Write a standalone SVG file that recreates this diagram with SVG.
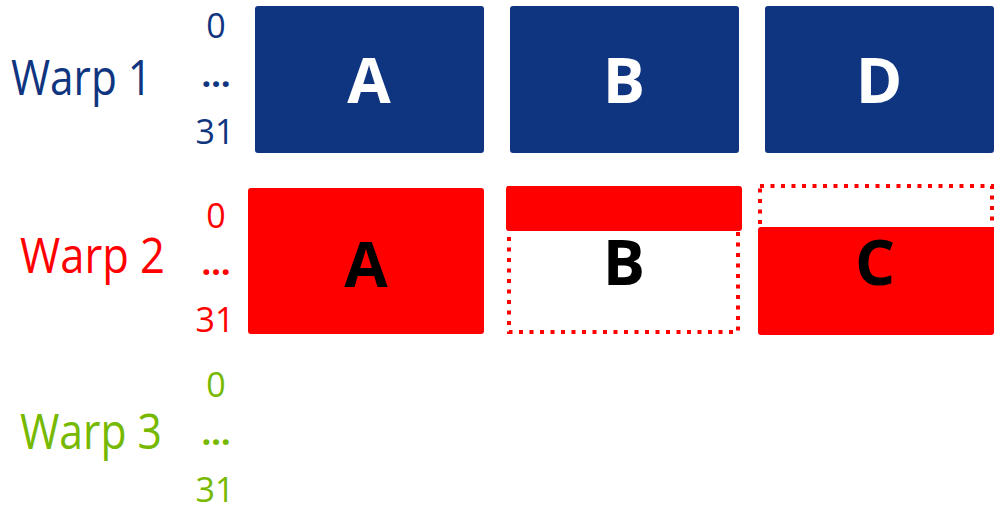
<svg xmlns="http://www.w3.org/2000/svg" width="1002" height="513" viewBox="0 0 1002 513">
<style>
.lbl{font-family:"Open Sans","DejaVu Sans",sans-serif;font-size:49px}
.num{font-family:"Open Sans","DejaVu Sans",sans-serif;font-size:34px;text-anchor:middle}
.ell{font-family:"Open Sans","DejaVu Sans",sans-serif;font-size:34px;font-weight:bold;text-anchor:middle}
.big{font-family:"Open Sans","DejaVu Sans",sans-serif;font-size:63px;font-weight:bold;text-anchor:middle}
.blue{fill:#0F3580}
.red{fill:#FF0000}
.green{fill:#76B900}
.dot{fill:none;stroke:#FF0000;stroke-width:4;stroke-dasharray:4 6.5}
</style>
<rect width="1002" height="513" fill="#ffffff"/>
<g id="warp1-label">
<text class="lbl blue" x="11" y="95" textLength="141" lengthAdjust="spacingAndGlyphs">Warp 1</text>
<text class="num blue" x="216" y="38">0</text>
<text class="ell blue" x="216" y="87">…</text>
<text class="num blue" x="215" y="144">31</text>
</g>
<g id="warp2-label">
<text class="lbl red" x="20" y="273" textLength="145" lengthAdjust="spacingAndGlyphs">Warp 2</text>
<text class="num red" x="216" y="228">0</text>
<text class="ell red" x="216" y="275">…</text>
<text class="num red" x="215" y="332">31</text>
</g>
<g id="warp3-label">
<text class="lbl green" x="20" y="449" textLength="142" lengthAdjust="spacingAndGlyphs">Warp 3</text>
<text class="num green" x="216" y="397">0</text>
<text class="ell green" x="216" y="445">…</text>
<text class="num green" x="215" y="502">31</text>
</g>
<g id="w1-A"><rect x="255" y="6" width="229" height="147" rx="3" class="blue"/><text class="big" x="369" y="103" fill="#ffffff">A</text></g>
<g id="w1-B"><rect x="510" y="6" width="229" height="147" rx="3" class="blue"/><text class="big" x="624" y="103" fill="#ffffff">B</text></g>
<g id="w1-D"><rect x="765" y="6" width="229" height="147" rx="3" class="blue"/><text class="big" x="879" y="103" fill="#ffffff">D</text></g>
<g id="w2-A"><rect x="248" y="188" width="236" height="146" rx="3" class="red"/><text class="big" x="366" y="287" fill="#000000">A</text></g>
<g id="w2-B"><rect x="509" y="188" width="229" height="144" class="dot"/><rect x="506" y="186" width="236" height="45" rx="3" class="red"/><text class="big" x="624" y="285" fill="#000000">B</text></g>
<g id="w2-C"><rect x="760" y="186" width="232" height="144" class="dot"/><rect x="758" y="227" width="236" height="108" rx="3" class="red"/><text class="big" x="875" y="285" fill="#000000">C</text></g>
<g id="connectors"></g>
</svg>
